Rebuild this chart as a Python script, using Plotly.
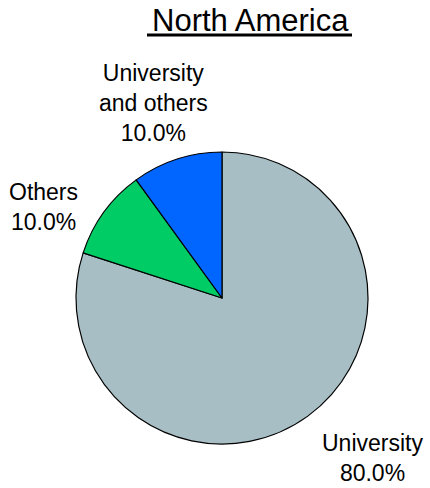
import plotly.graph_objects as go

labels = ["University", "Others", "University and others"]
values = [80, 10, 10]
display_labels = ["University", "Others", "University<br>and others"]
colors = ["#A7BEC5", "#00CC66", "#0066FF"]
title_text = "North America"

W, H = 430, 488


def px(x):
    return x / W


def py(y):
    return 1 - y / H


CX, CY, R = 222, 298, 146
fig = go.Figure(go.Pie(
    labels=labels, values=values, sort=False, direction="clockwise", rotation=0,
    marker=dict(colors=colors, line=dict(color="black", width=1.2)),
    textinfo="none", hoverinfo="label+percent", showlegend=False,
    domain=dict(x=[px(CX - R), px(CX + R)], y=[py(CY + R), py(CY - R)]),
))

total = sum(values)
label_pos = [(372, 458), (43, 207), (153, 103)]
for lab, v, (lx, ly) in zip(display_labels, values, label_pos):
    fig.add_annotation(
        x=px(lx), y=py(ly), xref="paper", yref="paper",
        text=f"{lab}<br>{100 * v / total:.1f}%", showarrow=False,
        font=dict(family="Liberation Sans, Arial", size=23, color="black"),
        xanchor="center", yanchor="middle", align="center",
    )

fig.add_annotation(
    x=px(250), y=py(2), xref="paper", yref="paper", text=title_text,
    showarrow=False, font=dict(family="Liberation Sans, Arial", size=31, color="black"),
    xanchor="center", yanchor="top", borderpad=0,
)
fig.add_shape(type="line", xref="paper", yref="paper",
              x0=px(147), x1=px(352), y0=py(35), y1=py(35),
              line=dict(color="black", width=3))

fig.update_layout(
    width=W, height=H, margin=dict(l=0, r=0, t=0, b=0),
    paper_bgcolor="white", plot_bgcolor="white",
)
fig.write_html("out.html", config={"displayModeBar": False},
               post_script="document.body.style.margin='0';")
